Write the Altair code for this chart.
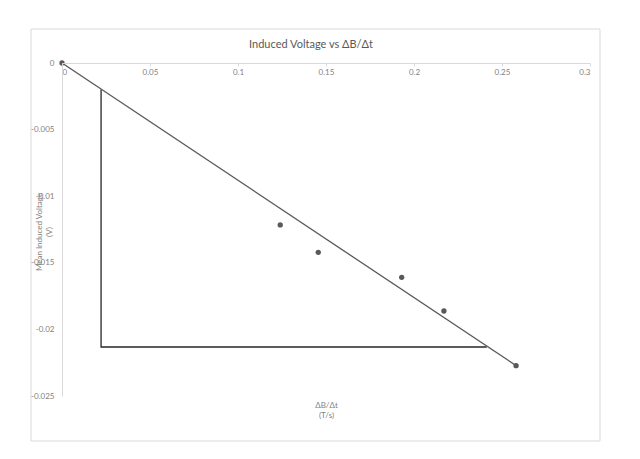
import altair as alt
import pandas as pd

# data
db_dt = [0.0, 0.124, 0.1456, 0.193, 0.217, 0.258]
mean_voltage = [0.0, -0.01216, -0.01421, -0.01609, -0.01862, -0.02272]

trend_x = [0.0, 0.258]
trend_y = [0.0, -0.02272]

tri_x = [0.0222, 0.0222, 0.2413]
tri_y = [-0.00199, -0.02132, -0.02132]

x_ticks = [0, 0.05, 0.1, 0.15, 0.2, 0.25, 0.3]
y_ticks = [0, -0.005, -0.01, -0.015, -0.02, -0.025]

pts = pd.DataFrame({"x": db_dt, "y": mean_voltage})
trend = pd.DataFrame({"x": trend_x, "y": trend_y})
tri = pd.DataFrame({"x": tri_x, "y": tri_y, "o": list(range(len(tri_x)))})

W, H = 528, 333
FONT = "Lato"
GRAY = "#7f7f7f"
DARK = "#595959"

xscale = alt.Scale(domain=[0, 0.3], nice=False, zero=False)
yscale = alt.Scale(domain=[-0.025, 0], nice=False, zero=False)

xaxis = alt.Axis(
    orient="bottom", offset=-H, values=x_ticks, format="~g",
    labelExpr="replace(datum.label, '\u2212', '-')",
    grid=False, domainColor="#d9d9d9", tickColor="#d9d9d9", tickSize=3,
    labelColor=GRAY, labelFontSize=8, labelFont=FONT, labelPadding=2,
    title=["\u0394B/\u0394t", "(T/s)"], titleFont=FONT, titleFontSize=8,
    titleColor=GRAY, titleFontWeight="normal", titleX=W / 2, titleY=338,
    titleAlign="center", titleBaseline="top", zindex=1,
)
yaxis = alt.Axis(
    orient="left", values=y_ticks, format="~g",
    labelExpr="replace(datum.label, '\u2212', '-')",
    grid=False, domainColor="#d9d9d9", ticks=False,
    labelColor=GRAY, labelFontSize=8, labelFont=FONT, labelPadding=8,
    title=["Mean Induced Voltage", "(V)"], titleFont=FONT, titleFontSize=8,
    titleColor=GRAY, titleFontWeight="normal", titleX=-19, titleY=H / 2 + 2,
    titleAngle=270, titleAlign="center", titleBaseline="bottom", zindex=1,
)

X = alt.X("x:Q", scale=xscale, axis=xaxis)
Y = alt.Y("y:Q", scale=yscale, axis=yaxis)

frame = alt.Chart(pts).mark_rect(fill="white", fillOpacity=0, stroke="#d9d9d9", strokeWidth=1).encode(
    x=alt.value(-31), x2=alt.value(538), y=alt.value(-34), y2=alt.value(378)
).transform_filter("datum.x == 0")

tri_line = alt.Chart(tri).mark_line(color="#262626", strokeWidth=1.3).encode(
    x=X, y=Y, order="o:Q",
)

trend_line = alt.Chart(trend).mark_line(color=DARK, strokeWidth=1.3).encode(
    x=X, y=Y,
)

points = alt.Chart(pts).mark_circle(color=DARK, size=28, opacity=1).encode(
    x=X, y=Y
)

chart = alt.layer(frame, tri_line, trend_line, points).properties(
    width=W, height=H,
    padding={"left": 54, "top": 55, "right": 42, "bottom": 55},
    autosize=alt.AutoSizeParams(type="none"),
    title=alt.TitleParams(
        "Induced Voltage vs \u0394B/\u0394t", font=FONT, fontSize=11,
        fontWeight="normal", color=DARK, anchor="middle", offset=-21,
        frame="group", dx=-15,
    ),
).configure_view(stroke=None)

chart.save("out.html", embed_options={"renderer": "svg", "actions": False})
